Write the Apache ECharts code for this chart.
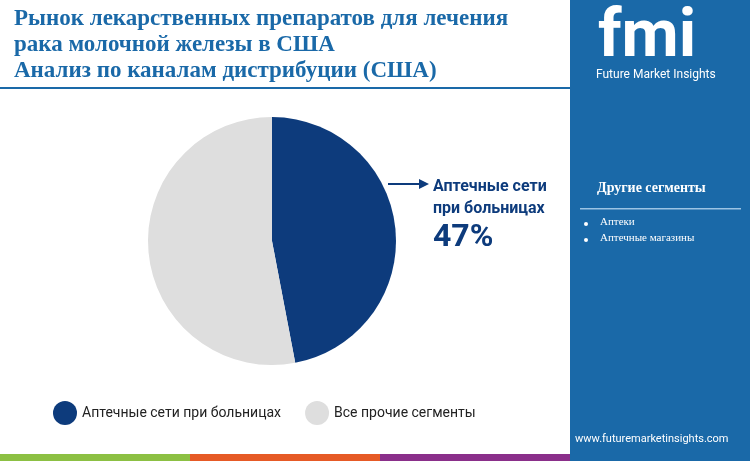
<!DOCTYPE html>
<html><head><meta charset="utf-8">
<script src="https://cdn.jsdelivr.net/npm/echarts@6/dist/echarts.min.js"></script>
<style>html,body{margin:0;padding:0;background:#fff}#c{width:750px;height:461px}</style>
</head><body><div id="c"></div>
<script>
var categories = ['Аптечные сети при больницах', 'Все прочие сегменты'];
var values = [47, 53];
var colors = ['#0d3b7c', '#dedede'];
var otherSegments = ['Аптеки', 'Аптечные магазины'];

var chart = echarts.init(document.getElementById('c'));
var serif = '"Liberation Serif", serif';
var sans = 'Roboto, "Noto Sans", sans-serif';

var g = [
  {type:'rect', shape:{x:570,y:0,width:180,height:461}, style:{fill:'#1a69a8'}},
  {type:'rect', shape:{x:0,y:454,width:190,height:7}, style:{fill:'#8cc043'}},
  {type:'rect', shape:{x:190,y:454,width:190,height:7}, style:{fill:'#e65a26'}},
  {type:'rect', shape:{x:380,y:454,width:190,height:7}, style:{fill:'#8a2f8a'}},
  {type:'rect', shape:{x:0,y:87,width:570,height:2}, style:{fill:'#1a69a8'}},
  {type:'text', left:14, top:6, style:{text:'Рынок лекарственных препаратов для лечения\nрака молочной железы в США\nАнализ по каналам дистрибуции (США)', font:'bold 23px '+serif, fill:'#1a69a8', lineHeight:26}},
  {type:'text', left:598, top:6, style:{text:'fmi', font:'bold 66px '+sans, fill:'#fff'}},
  {type:'text', left:596, top:69, style:{text:'Future Market Insights', font:'12px '+sans, fill:'#fff'}},
  {type:'text', left:597, top:181, style:{text:'Другие сегменты', font:'bold 14px '+serif, fill:'#fff'}},
  {type:'rect', shape:{x:580,y:208,width:161,height:1.5}, style:{fill:'#9cc4e4'}},
  {type:'text', left:575, top:434, style:{text:'www.futuremarketinsights.com', font:'11px '+sans, fill:'#fff'}},
  {type:'polyline', shape:{points:[[388,184],[420,184]]}, style:{stroke:'#0d3b7c', lineWidth:2}},
  {type:'polygon', shape:{points:[[429,184],[419,179],[419,189]]}, style:{fill:'#0d3b7c'}},
  {type:'text', left:433, top:176, style:{text:'Аптечные сети\nпри больницах', font:'bold 16px '+sans, fill:'#0d3b7c', lineHeight:22}},
  {type:'text', left:433, top:222, style:{text:values[0]+'%', font:'bold 32px '+sans, fill:'#0d3b7c'}}
];
otherSegments.forEach(function(s, i){
  g.push({type:'circle', shape:{cx:586,cy:224+i*16,r:2}, style:{fill:'#fff'}});
  g.push({type:'text', left:600, top:217+i*16, style:{text:s, font:'11px '+serif, fill:'#fff'}});
});

chart.setOption({
  animation:false,
  legend:{left:48, top:396, icon:'circle', itemWidth:24, itemHeight:24, itemGap:24,
    textStyle:{fontFamily:sans, fontSize:14, color:'#222'}, data:categories},
  series:[{type:'pie', center:[272,241], radius:[0,124], startAngle:90, clockwise:true,
    label:{show:false}, labelLine:{show:false},
    data:categories.map(function(c,i){return {name:c, value:values[i], itemStyle:{color:colors[i]}};})}],
  graphic:g
});
</script></body></html>
